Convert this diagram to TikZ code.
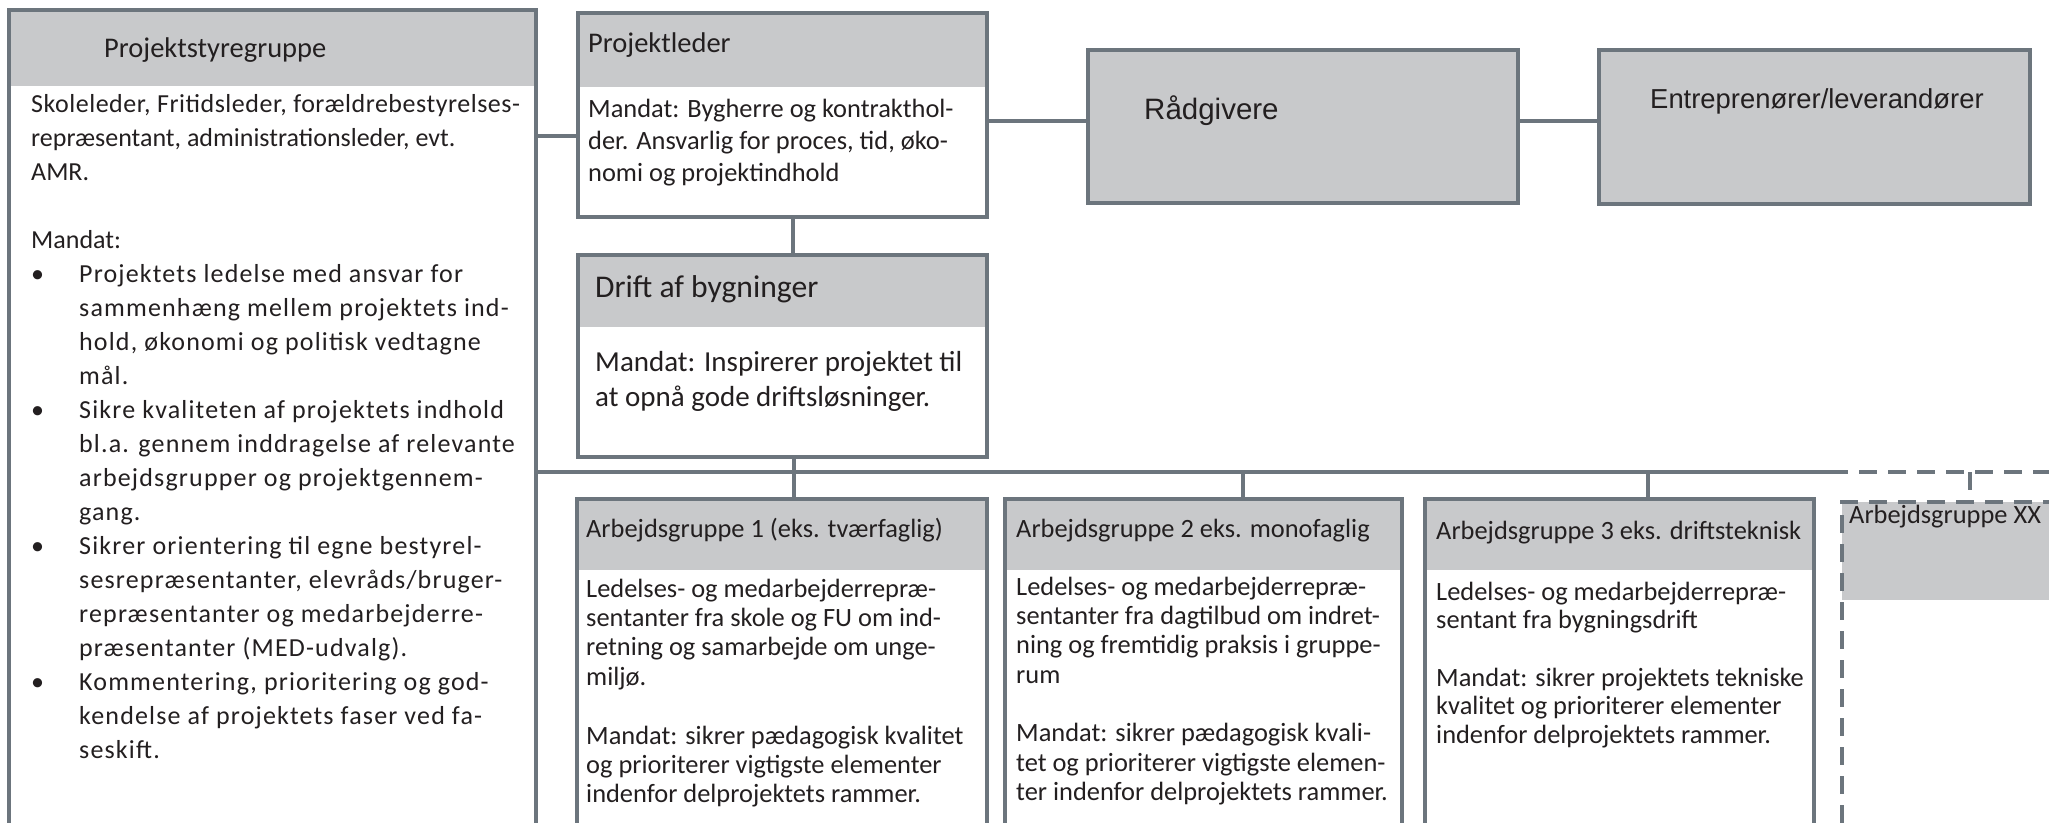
\documentclass[tikz,border=0pt]{standalone}
\usepackage{fontspec}
\setmainfont{Carlito}
\newfontfamily\lsfont[LetterSpace=4.5]{Carlito}
\newfontfamily\lsafont[LetterSpace=2]{Carlito}
\newfontfamily\arialfont{Liberation Sans}
\definecolor{bord}{HTML}{6C757D}
\definecolor{hdrc}{HTML}{C8C9CB}
\definecolor{txt}{HTML}{231F20}
\newcommand\bl[1]{\makebox[48pt][l]{\textbullet}{\lsfont #1}}
\newcommand\cl[1]{\hspace*{48pt}{\lsfont #1}}
\tikzset{
  box/.style={rectangle, draw=bord, line width=4pt, fill=white, inner sep=0pt, anchor=north west},
  header/.style={path picture={\fill[hdrc] (path picture bounding box.north west) rectangle ([yshift=-#1]path picture bounding box.north east);}},
  dbox/.style={box, dash pattern=on 18pt off 11pt},
  conn/.style={draw=bord, line width=3.5pt},
  dconn/.style={conn, dash pattern=on 18pt off 11pt},
  htext/.style={anchor=base west, inner sep=0pt, text=txt, font=\fontsize{28.5}{34}\selectfont},
  agh/.style={anchor=base west, inner sep=0pt, text=txt, font=\fontsize{26.4}{30}\selectfont},
  btext/.style={anchor=north west, inner sep=0pt, text=txt, align=left},
}
\begin{document}
\begin{tikzpicture}[x=1pt,y=-1pt]
\useasboundingbox (0,0) rectangle (2049,822);
\clip (0,0) rectangle (2049,822);
\fill[white] (0,0) rectangle (2049,822);

% boxes
\node[box, header=76pt, minimum width=527pt, minimum height=930pt] (psg) at (7,8) {};
\node[box, header=74pt, minimum width=409pt, minimum height=204pt] (pl) at (576,11) {};
\node[box, header=72pt, minimum width=409pt, minimum height=202pt] (drift) at (576,253) {};
\node[box, fill=hdrc, minimum width=430pt, minimum height=153pt] (rg) at (1086,48) {};
\node[box, fill=hdrc, minimum width=431pt, minimum height=154pt] (en) at (1597,48) {};
\node[box, header=71pt, minimum width=410pt, minimum height=430pt] (ag1) at (575,497) {};
\node[box, header=71pt, minimum width=397pt, minimum height=430pt] (ag2) at (1003,497) {};
\node[box, header=71pt, minimum width=389pt, minimum height=430pt] (ag3) at (1423,497) {};
\node[dbox, header=98pt, minimum width=460pt, minimum height=430pt] (agxx) at (1840,500) {};

% connectors
\coordinate (busend) at (1830,472);
\coordinate (busfar) at (2070,472);
\draw[conn] (psg.east |- 0,136) -- (pl.west |- 0,136);
\draw[conn] (pl.east |- 0,121) -- (rg.west |- 0,121);
\draw[conn] (rg.east |- 0,121) -- (en.west |- 0,121);
\draw[conn] (pl.south -| 793,0) -- (drift.north -| 793,0);
\draw[conn] (drift.south -| 794,0) -- (ag1.north -| 794,0);
\draw[conn] (psg.east |- busend) -- (busend);
\draw[dconn] (busend) -- (busfar);
\draw[conn] (busend -| 1243,0) -- (ag2.north -| 1243,0);
\draw[conn] (busend -| 1648,0) -- (ag3.north -| 1648,0);
\draw[dconn] (busend -| 1970,0) -- (agxx.north -| 1970,0);

% texts
\node[htext] (psg-h) at (104,57) {Projektstyregruppe};
\node[btext, font=\fontsize{26}{34}\selectfont] (psg-b) at (31,88.2) {\strut{\lsafont Skoleleder, Fritidsleder, forældrebestyrelses-}\\
repræsentant, administrationsleder, evt.\\
AMR.\\
\mbox{}\\
Mandat:\\
\bl{Projektets ledelse med ansvar for}\\
\cl{sammenhæng mellem projektets ind-}\\
\cl{hold, økonomi og politisk vedtagne}\\
\cl{mål.}\\
\bl{Sikre kvaliteten af projektets indhold}\\
\cl{bl.a. gennem inddragelse af relevante}\\
\cl{arbejdsgrupper og projektgennem-}\\
\cl{gang.}\\
\bl{Sikrer orientering til egne bestyrel-}\\
\cl{sesrepræsentanter, elevråds/bruger-}\\
\cl{repræsentanter og medarbejderre-}\\
\cl{præsentanter (MED-udvalg).}\\
\bl{Kommentering, prioritering og god-}\\
\cl{kendelse af projektets faser ved fa-}\\
\cl{seskift.}};

\node[htext] (pl-h) at (588,52) {Projektleder};
\node[btext, font=\fontsize{26.4}{32}\selectfont] (pl-b) at (588,94.6) {\strut Mandat: Bygherre og kontrakthol-\\
der. Ansvarlig for proces, tid, øko-\\
nomi og projektindhold};

\node[htext, font=\fontsize{31.6}{36}\selectfont] (drift-h) at (595,297) {Drift af bygninger};
\node[btext, font=\fontsize{29}{35}\selectfont] (drift-b) at (595,346.5) {\strut Mandat: Inspirerer projektet til\\
at opnå gode driftsløsninger.};

\node[anchor=base west, inner sep=0pt, text=txt, font=\arialfont\fontsize{29.5}{33}\selectfont] (rg-t) at (1144,119) {Rådgivere};
\node[anchor=base west, inner sep=0pt, text=txt, font=\arialfont\fontsize{27.4}{32}\selectfont] (en-t) at (1650,108) {Entreprenører/leverandører};

\node[agh] (ag1-h) at (586,537) {Arbejdsgruppe 1 (eks. tværfaglig)};
\node[btext, font=\fontsize{26.4}{29.4}\selectfont] (ag1-b) at (586,576.4) {\strut Ledelses- og medarbejderrepræ-\\
sentanter fra skole og FU om ind-\\
retning og samarbejde om unge-\\
miljø.\\
\mbox{}\\
Mandat: sikrer pædagogisk kvalitet\\
og prioriterer vigtigste elementer\\
indenfor delprojektets rammer.};

\node[agh] (ag2-h) at (1016,537) {Arbejdsgruppe 2 eks. monofaglig};
\node[btext, font=\fontsize{26.4}{29.3}\selectfont] (ag2-b) at (1016,574.5) {\strut Ledelses- og medarbejderrepræ-\\
sentanter fra dagtilbud om indret-\\
ning og fremtidig praksis i gruppe-\\
rum\\
\mbox{}\\
Mandat: sikrer pædagogisk kvali-\\
tet og prioriterer vigtigste elemen-\\
ter indenfor delprojektets rammer.};

\node[agh] (ag3-h) at (1436,539) {Arbejdsgruppe 3 eks. driftsteknisk};
\node[btext, font=\fontsize{26.4}{28.6}\selectfont] (ag3-b) at (1436,580) {\strut Ledelses- og medarbejderrepræ-\\
sentant fra bygningsdrift\\
\mbox{}\\
Mandat: sikrer projektets tekniske\\
kvalitet og prioriterer elementer\\
indenfor delprojektets rammer.};

\node[agh] (agxx-h) at (1849,523) {Arbejdsgruppe XX};
\end{tikzpicture}
\end{document}
